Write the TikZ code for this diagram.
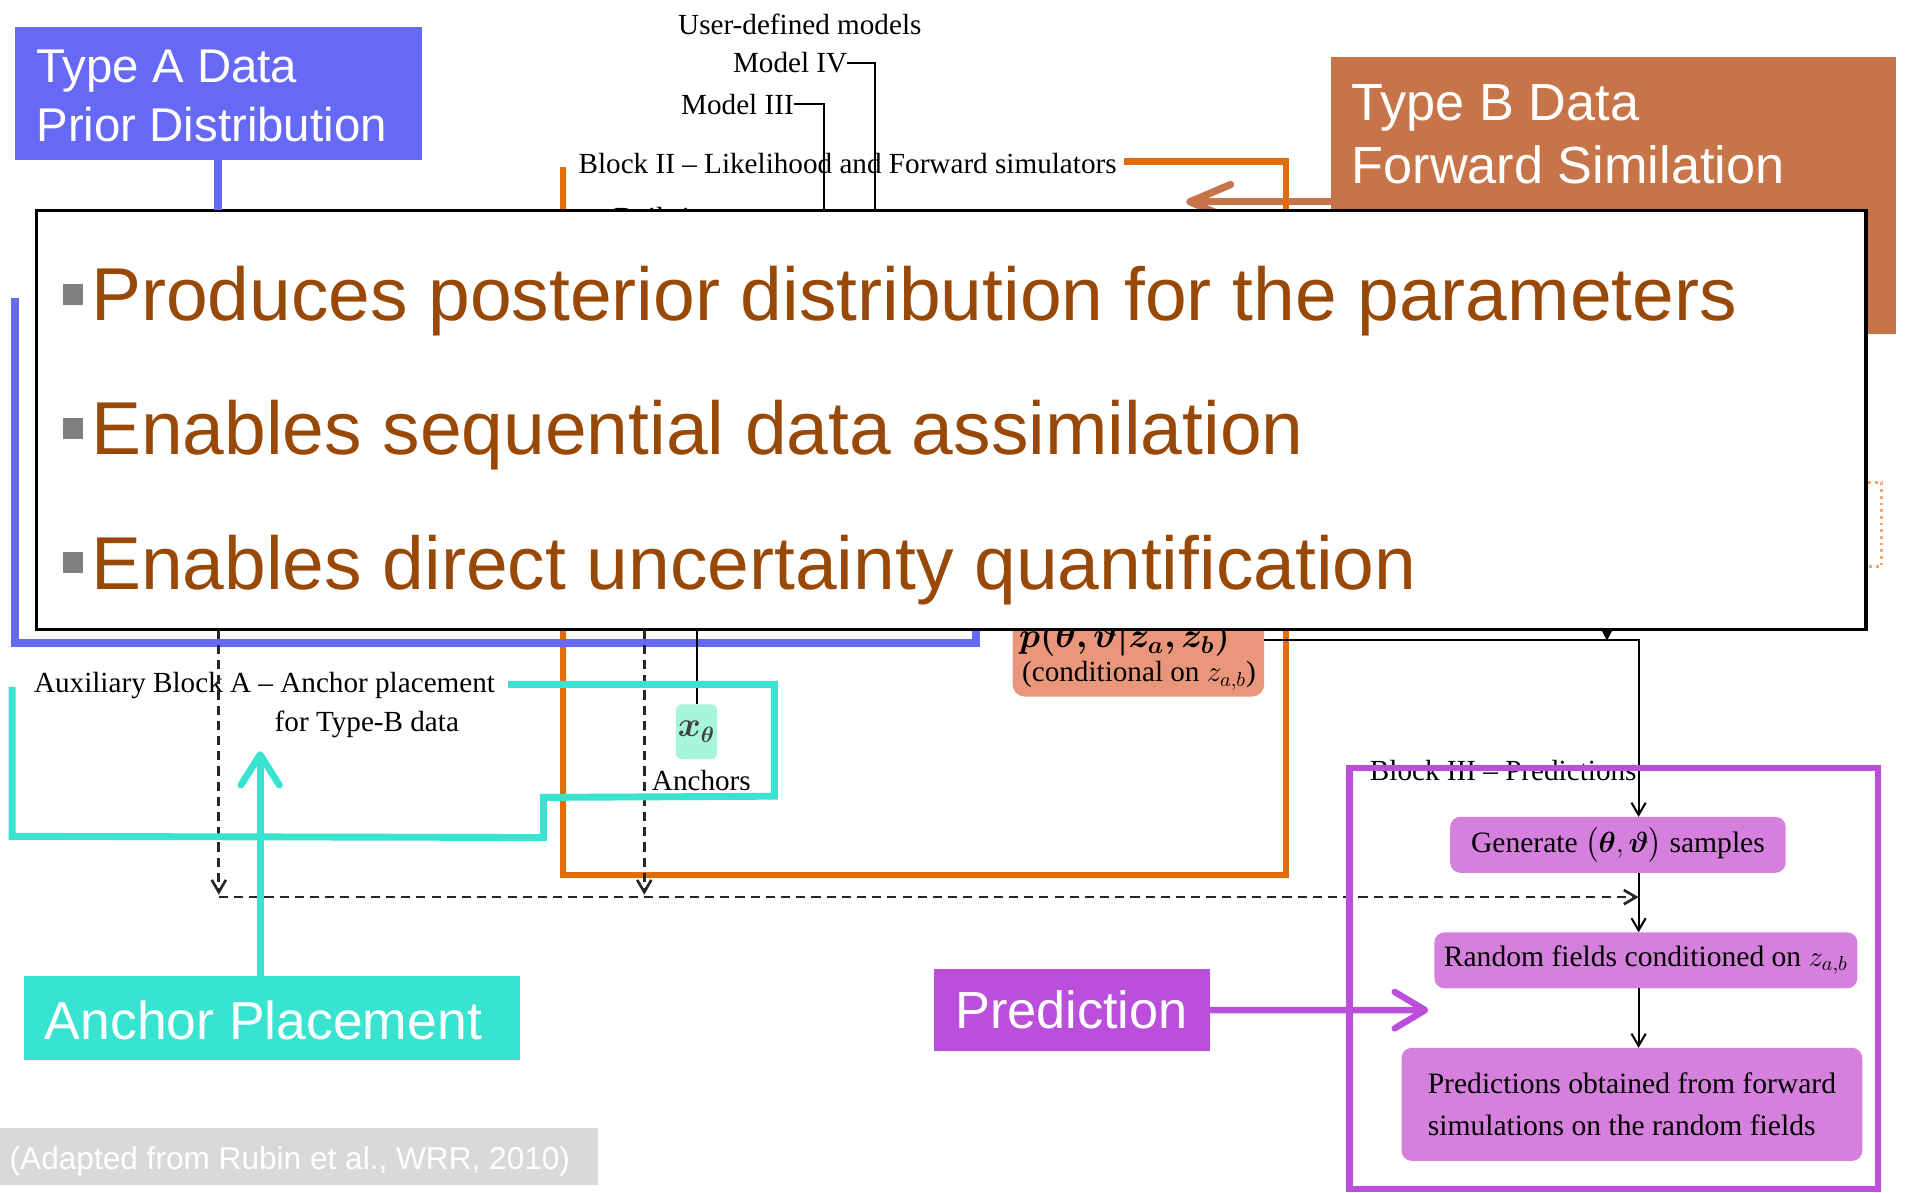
\documentclass[tikz,border=0pt]{standalone}
\usepackage{fontspec}
\usepackage{amsmath}
\usepackage{bm}
\setmainfont{Liberation Serif}
\newfontfamily\sansf{Liberation Sans}
\usetikzlibrary{arrows.meta}
\definecolor{blueA}{HTML}{6669F5}
\definecolor{boxB}{HTML}{C87449}
\definecolor{orangeL}{HTML}{E36C0A}
\definecolor{tealC}{HTML}{38E3D0}
\definecolor{purpleC}{HTML}{BB4FDB}
\definecolor{lilac}{HTML}{D580DD}
\definecolor{salmon}{HTML}{E9967A}
\definecolor{mint}{HTML}{A6F5DC}
\definecolor{brownT}{HTML}{984807}
\definecolor{capgray}{HTML}{D9D9D9}
\definecolor{bulletgray}{HTML}{808080}
\tikzset{
  lbl/.style={inner sep=0pt, outer sep=0pt},
  serif/.style={lbl, font=\fontsize{14.4}{17}\selectfont},
  blueline/.style={draw=blueA, line width=4pt},
  orangeline/.style={draw=orangeL, line width=3.2pt},
  tealline/.style={draw=tealC, line width=3.4pt},
  purpleline/.style={draw=purpleC, line width=3.2pt},
  thinline/.style={draw=black, line width=1pt},
  thinarrow/.style={thinline, -{Straight Barb[length=6pt,width=7pt]}},
  dashline/.style={draw=black!85, line width=1.3pt, dash pattern=on 4.5pt off 3pt, -{Straight Barb[length=6pt,width=7pt]}},
  panel/.style={lbl, anchor=north west},
  lilacbox/.style={lbl, fill=lilac, rounded corners=5pt, font=\fontsize{14.6}{20.4}\selectfont},
  bulletsq/.style={lbl, fill=bulletgray, minimum size=10.2pt},
  maintext/.style={lbl, anchor=base west, text=brownT, font=\sansf\fontsize{37}{44}\selectfont},
  whiteA/.style={lbl, anchor=base west, text=white, font=\sansf\fontsize{23.4}{28}\selectfont},
  whiteB/.style={lbl, anchor=base west, text=white, font=\sansf\fontsize{25.8}{31}\selectfont},
}
\begin{document}
\begin{tikzpicture}[x=0.6pt,y=-0.6pt]
\useasboundingbox (0,0) rectangle (1568,981);
\fill[white] (0,0) rectangle (1568,981);

% ---------- original diagram, upper part ----------
\node[serif, anchor=base] (udm) at (658,28) {User-defined models};
\node[serif, anchor=base east] (m4) at (697,60) {Model IV};
\node[serif, anchor=base east] (m3) at (653,94) {Model III};
\node[serif, anchor=base west] (b2) at (476,143) {Block II – Likelihood and Forward simulators};
\node[serif, anchor=base west] (bi) at (505,187) {Built-in};
\coordinate (m4end) at (720,300);
\coordinate (m3end) at (678,300);
\draw[thinline] (m4.east) -| (m4end);
\draw[thinline] (m3.east) -| (m3end);

% ---------- Type B panel and arrow ----------
\node[panel, fill=boxB, minimum width=279pt, minimum height=136.8pt] (typeB) at (1095,47) {};
\node[whiteB] (typeB1) at (1112,99) {Type B Data};
\node[whiteB] (typeB2) at (1112,151) {Forward Similation};
\coordinate (bTip) at (976,166);
\draw[draw=boxB, line width=3.6pt, -{Straight Barb[length=20pt,width=17pt,round]}] (typeB.west |- bTip) -- (bTip);

% ---------- Block II outline ----------
\coordinate (oA) at (925,133);
\coordinate (oB) at (1058,133);
\coordinate (oC) at (1058,720);
\coordinate (oD) at (463,720);
\coordinate (oE) at (463,137);
\draw[orangeline] (oA) -- (oB) -- (oC) -- (oD) -- (oE);

% ---------- posterior node (partly hidden) ----------
\node[panel, fill=salmon, rounded corners=6pt, minimum width=124.2pt, minimum height=55.8pt] (post) at (833,480) {};
\node[serif, anchor=base, font=\fontsize{17}{19}\selectfont] (postA) at (925,533) {$\boldsymbol{p(\theta,\vartheta|z_a,z_b)}$};
\node[serif, anchor=base] (postB) at (937,561) {(conditional on $z_{a,b}$)};
\coordinate (tA) at (1322,480);
\coordinate (tB) at (1322,527);
\draw[thinline, -{Triangle[length=6pt,width=6pt]}] (tA) -- (tB);

% ---------- blue bracket ----------
\coordinate (bl1) at (12,245);
\coordinate (bl2) at (12,529);
\coordinate (bl3) at (803,529);
\coordinate (bl4) at (803,510);
\draw[blueline] (bl1) -- (bl2) -- (bl3) -- (bl4);

% ---------- Type A panel ----------
\node[panel, fill=blueA, minimum width=201pt, minimum height=66pt] (typeA) at (12,22) {};
\node[whiteA] (typeA1) at (30,68) {Type A Data};
\node[whiteA] (typeA2) at (30,116) {Prior Distribution};

% ---------- main overlay box ----------
\node[panel, draw=black, line width=1.6pt, fill=white, minimum width=903pt, minimum height=207pt] (mainbox) at (30,173) {};
\draw[blueline] (typeA.south) -- (typeA.south |- mainbox.north);
\node[bulletsq] (bu1) at (60,242) {};
\node[bulletsq] (bu2) at (60,352.5) {};
\node[bulletsq] (bu3) at (60,463) {};
\node[maintext] (t1) at (75,264) {Produces posterior distribution for the parameters};
\node[maintext] (t2) at (75,374) {Enables sequential data assimilation};
\node[maintext] (t3) at (75,485) {Enables direct uncertainty quantification};

% dotted orange fragment at right
\coordinate (do1) at (1537,397);
\coordinate (do2) at (1548,397);
\coordinate (do3) at (1548,466);
\coordinate (do4) at (1537,466);
\draw[draw=orangeL!60, line width=1.3pt, dotted] (do1) -- (do2) -- (do3) -- (do4);

% ---------- lower diagram ----------
\node[serif, anchor=base west] (aux1) at (28,570) {Auxiliary Block A – Anchor placement};
\node[serif, anchor=base west] (aux2) at (226,602) {for Type-B data};
\node[lbl, fill=mint, rounded corners=3pt, minimum width=20.4pt, minimum height=27pt, font=\fontsize{16}{18}\selectfont, text=black!75] (xth) at (573,602) {$\boldsymbol{x_\theta}$};
\draw[thinline] (xth.north |- mainbox.south) -- (xth.north);
\node[serif, anchor=base] (anch) at (577,650) {Anchors};

\coordinate (dv1) at (180,736);
\coordinate (dv2) at (530,736);
\coordinate (dh) at (180,738);
\coordinate (spine) at (1348,527);
\draw[dashline] (dv1 |- mainbox.south) -- (dv1);
\draw[dashline] (dv2 |- mainbox.south) -- (dv2);
\draw[dashline] (dh) -- (spine |- dh);

\node[serif, anchor=base west] (b3) at (1127,642) {Block III – Predictions};
\node[lilacbox, minimum width=165.6pt, minimum height=27.6pt] (gen) at (1331,695) {Generate $\bigl(\boldsymbol{\theta},\boldsymbol{\vartheta}\bigr)$ samples};
\node[lilacbox, minimum width=208.8pt, minimum height=27.6pt] (rand) at (1354,790) {Random fields conditioned on $z_{a,b}$};
\node[lilacbox, align=left, minimum width=227.4pt, minimum height=55.8pt] (pred) at (1342.5,908.5) {Predictions obtained from forward\\simulations on the random fields};
\draw[thinarrow] (post.east) -| (spine |- gen.north);
\draw[thinarrow] (spine |- gen.south) -- (spine |- rand.north);
\draw[thinarrow] (spine |- rand.south) -- (spine |- pred.north);

% ---------- teal overlay ----------
\coordinate (tc1) at (418,563);
\coordinate (tc2) at (637,563);
\coordinate (tc3) at (637,655);
\coordinate (tc4) at (447,656);
\coordinate (tc5) at (447,689);
\coordinate (tc6) at (10,688);
\coordinate (tc7) at (10,565);
\draw[tealline] (tc1) -- (tc2) -- (tc3) -- (tc4) -- (tc5) -- (tc6) -- (tc7);
\node[panel, fill=tealC, minimum width=244.8pt, minimum height=41.4pt] (anchorbox) at (20,803) {};
\node[lbl, anchor=base west, text=white, font=\sansf\fontsize{26.4}{31}\selectfont] (anchortxt) at (37,855) {Anchor Placement};
\coordinate (tealtip) at (214,618);
\draw[tealline, -{Straight Barb[length=15pt,width=19pt,round]}] (tealtip |- anchorbox.north) -- (tealtip);

% ---------- purple overlay ----------
\node[panel, draw=purpleC, line width=3.2pt, minimum width=261pt, minimum height=207.6pt] (predframe) at (1110,632) {};
\node[panel, fill=purpleC, text=white, font=\sansf\fontsize{25.8}{31}\selectfont, minimum width=136.2pt, minimum height=40.8pt] (predlabel) at (768,797) {Prediction};
\coordinate (ptip) at (1175,831);
\draw[purpleline, -{Straight Barb[length=15pt,width=18pt,round]}] (predlabel.east) -- (ptip);

% ---------- caption ----------
\node[panel, fill=capgray, minimum width=295.2pt, minimum height=28.2pt] (capbox) at (0,928) {};
\node[lbl, anchor=base west, text=white, font=\sansf\fontsize{15.6}{18}\selectfont] (captxt) at (8,962) {(Adapted from Rubin et al., WRR, 2010)};
\end{tikzpicture}
\end{document}
